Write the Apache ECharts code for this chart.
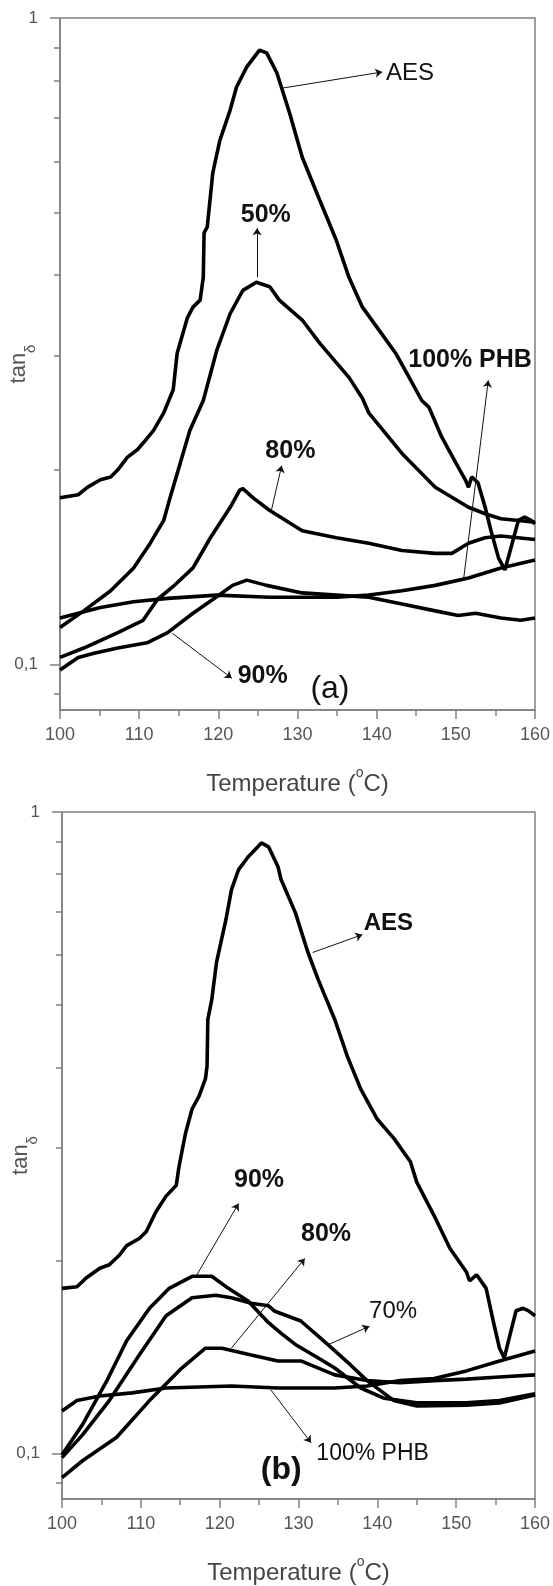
<!DOCTYPE html>
<html>
<head>
<meta charset="utf-8">
<script src="https://cdn.jsdelivr.net/npm/echarts@6/dist/echarts.min.js"></script>
<style>
  html, body { margin: 0; padding: 0; background: #fff; }
  #chart { width: 553px; height: 1586px; }
</style>
</head>
<body>
<div id="chart"></div>
<script>
// ---- panel (a): [temperature °C, tan δ] ----
const aesA = [[100,0.181],[102.3,0.183],[103.5,0.188],[105.1,0.193],[106.4,0.195],[107.3,0.200],[108.5,0.209],[109.8,0.215],[110.5,0.220],[111.8,0.230],[113.1,0.245],[114.3,0.266],[114.8,0.303],[116.1,0.344],[116.8,0.357],[117.7,0.366],[118.1,0.397],[118.2,0.465],[118.6,0.475],[119.3,0.576],[120.2,0.647],[121.5,0.721],[122.3,0.782],[123.6,0.840],[125.2,0.892],[126.1,0.883],[127.4,0.822],[129.0,0.713],[130.6,0.609],[132.8,0.523],[134.9,0.453],[136.5,0.397],[138.2,0.357],[140.3,0.329],[142.4,0.303],[144.1,0.278],[145.7,0.256],[146.6,0.250],[148.2,0.225],[150.0,0.205],[151.2,0.193],[151.6,0.188],[152.0,0.195],[152.8,0.191],[153.7,0.175],[154.5,0.160],[155.4,0.146],[156.2,0.140],[157.0,0.152],[157.9,0.167],[158.7,0.169],[159.5,0.167],[160,0.165]];
const p50A = [[100,0.114],[103.0,0.121],[106.4,0.130],[109.3,0.141],[111.4,0.154],[113.1,0.167],[113.9,0.181],[115.2,0.205],[116.4,0.230],[118.1,0.256],[119.8,0.306],[121.5,0.349],[123.1,0.379],[124.8,0.390],[126.5,0.384],[127.7,0.366],[130.6,0.341],[132.8,0.314],[134.9,0.293],[136.5,0.278],[138.2,0.258],[139.0,0.245],[143.2,0.212],[147.4,0.188],[151.6,0.175],[153.7,0.171],[155.7,0.168],[157.9,0.167],[160,0.166]];
const p80A = [[100,0.1025],[103.0,0.106],[107.3,0.112],[110.5,0.117],[112.3,0.126],[114.3,0.132],[116.8,0.141],[119.0,0.157],[121.5,0.175],[122.7,0.186],[123.1,0.187],[124.4,0.181],[126.5,0.173],[130.6,0.161],[134.9,0.157],[139.0,0.154],[143.2,0.150],[147.4,0.1485],[149.5,0.1485],[151.6,0.154],[153.7,0.157],[155.7,0.158],[160,0.156]];
const p90A = [[100,0.098],[102.3,0.1025],[104.3,0.104],[107.3,0.106],[111.0,0.108],[113.6,0.112],[116.8,0.120],[119.3,0.126],[121.8,0.1325],[123.6,0.135],[126.1,0.1325],[130.6,0.129],[134.9,0.128],[139.0,0.127],[143.2,0.124],[147.4,0.121],[150.3,0.119],[152.5,0.120],[155.7,0.118],[158.2,0.117],[160,0.118]];
const phbA = [[100,0.118],[105.1,0.1225],[109.3,0.125],[113.6,0.1265],[119.8,0.128],[126.5,0.127],[134.9,0.127],[139.0,0.128],[143.2,0.130],[147.4,0.1325],[151.6,0.136],[155.7,0.141],[160,0.145]];

// ---- panel (b) ----
const aesB = [[100,0.181],[101.9,0.182],[103.1,0.188],[104.8,0.1945],[106.0,0.197],[107.3,0.204],[108.2,0.211],[109.8,0.2165],[110.7,0.222],[111.9,0.238],[113.2,0.252],[114.5,0.262],[114.8,0.278],[115.1,0.291],[115.7,0.317],[116.5,0.3445],[117.4,0.361],[118.2,0.384],[118.4,0.402],[118.5,0.475],[119.0,0.510],[119.6,0.583],[120.8,0.680],[121.5,0.757],[122.4,0.813],[123.6,0.851],[125.3,0.895],[126.2,0.8825],[127.4,0.8215],[127.8,0.784],[129.6,0.697],[131.2,0.604],[132.5,0.548],[134.6,0.475],[136.2,0.416],[137.9,0.370],[140.0,0.332],[142.1,0.310],[144.2,0.285],[145.0,0.265],[147.2,0.235],[149.2,0.209],[151.3,0.192],[151.7,0.186],[152.6,0.190],[153.8,0.181],[154.7,0.161],[155.5,0.146],[156.1,0.141],[156.7,0.151],[157.6,0.167],[158.5,0.1685],[159.2,0.167],[160,0.164]];
const p90B = [[100,0.0996],[102.6,0.111],[105.7,0.130],[108.2,0.150],[111.1,0.1685],[113.6,0.181],[116.5,0.189],[119.0,0.189],[121.1,0.181],[123.6,0.173],[126.2,0.160],[127.8,0.154],[129.6,0.148],[132.5,0.141],[134.6,0.136],[137.9,0.1266],[140.9,0.122],[145.0,0.120],[151.3,0.120],[155.5,0.121],[160,0.124]];
const p70B = [[100,0.0986],[102.6,0.107],[106.0,0.121],[109.8,0.1425],[113.2,0.164],[116.5,0.175],[119.5,0.1766],[121.5,0.175],[124.0,0.1716],[126.2,0.170],[127.0,0.1667],[130.3,0.161],[133.7,0.148],[136.6,0.1375],[138.7,0.130],[142.1,0.121],[145.0,0.1187],[151.3,0.119],[155.5,0.120],[160,0.1235]];
const p80B = [[100,0.0918],[102.6,0.0975],[106.9,0.106],[111.1,0.121],[115.2,0.136],[118.2,0.146],[120.3,0.146],[124.0,0.1425],[127.4,0.1395],[130.3,0.1395],[134.6,0.1327],[138.7,0.130],[142.9,0.129],[147.2,0.130],[151.3,0.1307],[155.5,0.1317],[160,0.1327]];
const phbB = [[100,0.1166],[101.9,0.121],[104.8,0.123],[108.9,0.1244],[113.2,0.1266],[121.5,0.1275],[127.4,0.1266],[134.6,0.1266],[138.7,0.1275],[142.9,0.130],[147.2,0.131],[151.3,0.1346],[155.5,0.1395],[160,0.1446]];

// axes
const xMin = 100, xMax = 160, xStep = 10;
const yMin = 0.085, yMax = 1;
const yLabelValues = [0.1, 1];
const yMinorValues = [0.09, 0.2, 0.3, 0.4, 0.5, 0.6, 0.7, 0.8, 0.9];

// annotations: arrows [from, to] and texts, in data coordinates
const arrowsA = [
  [[128.1, 0.779], [140.7, 0.825]],
  [[124.9, 0.397], [124.9, 0.473]],
  [[151.0, 0.136], [154.1, 0.275]],
  [[126.7, 0.173], [128.0, 0.203]],
  [[114.2, 0.1117], [121.7, 0.0952]]
];
const textsA = [
  { text: 'AES', at: [144.2, 0.822], bold: false, size: 24 },
  { text: '50%', at: [126.0, 0.496], bold: true, size: 25 },
  { text: '100% PHB', at: [151.8, 0.2955], bold: true, size: 25 },
  { text: '80%', at: [129.1, 0.2137], bold: true, size: 25 },
  { text: '90%', at: [125.6, 0.0958], bold: true, size: 25 },
  { text: '(a)', at: [134.1, 0.0915], bold: false, size: 32 }
];
const arrowsB = [
  [[131.8, 0.604], [138.1, 0.644]],
  [[117.0, 0.189], [122.4, 0.2454]],
  [[121.5, 0.1461], [130.8, 0.2015]],
  [[133.7, 0.1477], [139.0, 0.158]],
  [[126.5, 0.1257], [131.6, 0.104]]
];
const textsB = [
  { text: 'AES', at: [141.4, 0.670], bold: true, size: 24 },
  { text: '90%', at: [125.0, 0.2673], bold: true, size: 25 },
  { text: '80%', at: [133.5, 0.2196], bold: true, size: 25 },
  { text: '70%', at: [142.0, 0.1667], bold: false, size: 24 },
  { text: '100% PHB', at: [139.4, 0.100], bold: false, size: 23 },
  { text: '(b)', at: [127.8, 0.0941], bold: true, size: 32 }
];

const axisColor = '#808080';
const font = 'Liberation Sans, Arial, sans-serif';

const xAxis = (gridIndex) => ({
  type: 'value', gridIndex, min: xMin, max: xMax, interval: xStep,
  axisLine: { show: true, lineStyle: { color: axisColor, width: 1.5 } },
  axisTick: { show: true, length: 9, lineStyle: { color: axisColor, width: 1.5 } },
  minorTick: { show: true, splitNumber: 2, length: 6, lineStyle: { color: axisColor, width: 1.5 } },
  axisLabel: { fontSize: 18, color: '#555', fontFamily: font, margin: 16 },
  splitLine: { show: false },
  name: '{n|Temperature (}{s|o}{n|C)}',
  nameLocation: 'middle', nameGap: 56,
  nameTextStyle: {
    rich: {
      n: { fontSize: 24, color: '#444', fontFamily: font, lineHeight: 30, verticalAlign: 'bottom' },
      s: { fontSize: 14, color: '#444', fontFamily: font, lineHeight: 14, verticalAlign: 'top' }
    }
  }
});

const yAxes = (gridIndex) => ([
  {
    type: 'log', gridIndex, min: yMin, max: yMax, position: 'left',
    axisLine: { show: true, lineStyle: { color: axisColor, width: 1.5 } },
    axisTick: { show: true, length: 10, customValues: yLabelValues, lineStyle: { color: axisColor, width: 1.5 } },
    axisLabel: {
      customValues: yLabelValues, fontSize: 17, color: '#555', fontFamily: font, margin: 22,
      formatter: (v) => String(v).replace('.', ',')
    },
    splitLine: { show: false },
    name: '{t|tan}{d|δ}',
    nameLocation: 'middle', nameRotate: 90, nameGap: 22, nameMoveOverlap: false,
    nameTextStyle: {
      rich: {
        t: { fontSize: 22, color: '#555', fontFamily: font, lineHeight: 30, verticalAlign: 'top' },
        d: { fontSize: 15, color: '#555', fontFamily: font, lineHeight: 15, verticalAlign: 'bottom' }
      }
    }
  },
  {
    type: 'log', gridIndex, min: yMin, max: yMax, position: 'left', offset: 0,
    axisLine: { show: false },
    axisTick: { show: true, length: 6, customValues: yMinorValues, lineStyle: { color: axisColor, width: 1.5 } },
    axisLabel: { show: false },
    splitLine: { show: false }
  }
]);

const curve = (name, data, xi, yi) => ({
  name, type: 'line', data, xAxisIndex: xi, yAxisIndex: yi,
  showSymbol: false, silent: true,
  lineStyle: { color: '#000', width: 3.6 }
});

const arrowMarks = (list) => ({
  silent: true, animation: false,
  symbol: ['none', 'arrow'], symbolSize: 7,
  lineStyle: { color: '#111', width: 1, type: 'solid' },
  label: { show: false },
  emphasis: { disabled: true },
  data: list.map(a => [{ coord: a[0] }, { coord: a[1] }])
});

const textMarks = (list) => ({
  silent: true, animation: false,
  symbol: 'circle', symbolSize: 0,
  data: list.map(t => ({
    coord: t.at, value: t.text,
    label: {
      show: true, position: 'inside', formatter: t.text,
      fontSize: t.size, fontWeight: t.bold ? 'bold' : 'normal',
      color: '#111', fontFamily: font
    }
  }))
});

const gridBox = (top, left, right, height) => ({
  show: true, top, left, right, height,
  borderColor: axisColor, borderWidth: 1.5, backgroundColor: 'transparent'
});

const chart = echarts.init(document.getElementById('chart'));

const seriesA = [
  curve('AES', aesA, 0, 0),
  curve('50%', p50A, 0, 0),
  curve('80%', p80A, 0, 0),
  curve('90%', p90A, 0, 0),
  curve('100% PHB', phbA, 0, 0)
];
seriesA[0].markLine = arrowMarks(arrowsA);
seriesA[4].markPoint = textMarks(textsA);

const seriesB = [
  curve('AES', aesB, 1, 2),
  curve('90%', p90B, 1, 2),
  curve('80%', p80B, 1, 2),
  curve('70%', p70B, 1, 2),
  curve('100% PHB', phbB, 1, 2)
];
seriesB[0].markLine = arrowMarks(arrowsB);
seriesB[4].markPoint = textMarks(textsB);

chart.setOption({
  animation: false,
  backgroundColor: '#fff',
  textStyle: { fontFamily: font },
  grid: [
    gridBox(18, 59, 16, 692),
    gridBox(812, 62, 14, 690)
  ],
  xAxis: [xAxis(0), xAxis(1)],
  yAxis: [...yAxes(0), ...yAxes(1)],
  series: [...seriesA, ...seriesB]
});
</script>
</body>
</html>
